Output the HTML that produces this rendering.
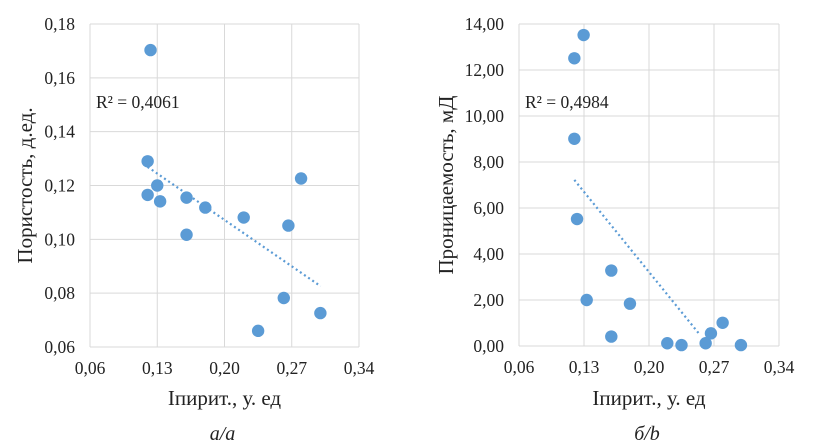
<!DOCTYPE html>
<html><head><meta charset="utf-8"><style>
html,body{margin:0;padding:0;background:#fff;width:824px;height:445px;overflow:hidden}
svg text{font-family:"Liberation Serif","Noto Serif CJK SC",serif;fill:#222}
</style></head><body>
<svg id="s" width="824" height="445"></svg>
<script>
const xTicks=[0.06,0.13,0.20,0.27,0.34];
const leftYTicks=[0.06,0.08,0.10,0.12,0.14,0.16,0.18];
const leftX=[0.123,0.120,0.130,0.120,0.133,0.1605,0.180,0.1605,0.220,0.2665,0.2797,0.2617,0.235,0.2998];
const leftY=[0.1703,0.129,0.120,0.1165,0.1141,0.1155,0.1118,0.1017,0.1081,0.1051,0.1226,0.0782,0.0660,0.0726];
const leftTrendX=[0.12,0.30];
const leftTrendY=[0.1269,0.0826];
const rightYTicks=[0,2,4,6,8,10,12,14];
const rightX=[0.1296,0.1196,0.1196,0.1225,0.1594,0.1329,0.1795,0.1594,0.2197,0.235,0.261,0.2667,0.2793,0.299];
const rightY=[13.52,12.51,9.01,5.52,3.28,2.0,1.84,0.41,0.12,0.04,0.12,0.55,1.01,0.04];
const rightTrendX=[0.1196,0.255];
const rightTrendY=[7.22,0.48];
const NS="http://www.w3.org/2000/svg";
const svg=document.getElementById('s');
function mk(t,a,p){const e=document.createElementNS(NS,t);for(const k in a)e.setAttribute(k,a[k]);(p||svg).appendChild(e);return e;}
function chart(o){
 const g=mk('g',{});
 
 
 const sx=v=>o.x0+(v-xTicks[0])/(xTicks[xTicks.length-1]-xTicks[0])*(o.x1-o.x0);
 const yt=o.yTicks;
 const sy=v=>o.y1-(v-yt[0])/(yt[yt.length-1]-yt[0])*(o.y1-o.y0);
 xTicks.forEach(t=>{const l=mk('line',{x1:sx(t),x2:sx(t),y1:o.y0,y2:o.y1,stroke:'#d9d9d9','stroke-width':1},g);
  
  const tx=mk('text',{x:sx(t),y:o.y1+27,'text-anchor':'middle','font-size':17.5},g);tx.textContent=t.toFixed(2).replace('.',',');
  });
 yt.forEach(t=>{const l=mk('line',{x1:o.x0,x2:o.x1,y1:sy(t),y2:sy(t),stroke:'#d9d9d9','stroke-width':1},g);
  
  const tx=mk('text',{x:o.x0-15,y:sy(t)+6,'text-anchor':'end','font-size':17.5},g);tx.textContent=t.toFixed(2).replace('.',',');
  });
 const tl=mk('line',{x1:sx(o.tx[0]),y1:sy(o.ty[0]),x2:sx(o.tx[1]),y2:sy(o.ty[1]),stroke:'#5b9bd5','stroke-width':2.2,'stroke-dasharray':'2 3'},g);
 
 o.xs.forEach((v,i)=>{const c=mk('circle',{cx:sx(v),cy:sy(o.ys[i]),r:6.2,fill:'#5b9bd5'},g);
  });
 const r=mk('text',{x:o.x0+6,y:108,'font-size':17.5},g);r.textContent=o.r2;
 
 const xt=mk('text',{x:(o.x0+o.x1)/2,y:405,'text-anchor':'middle','font-size':21},g);xt.textContent='Іпирит., у. ед';
 
 const yti=mk('text',{x:0,y:0,'text-anchor':'middle','font-size':21,transform:`translate(${o.ytx},${(o.y0+o.y1)/2}) rotate(-90)`},g);yti.textContent=o.ytitle;
 
 const cap=mk('text',{x:(o.x0+o.x1)/2-2,y:440,'text-anchor':'middle','font-size':20,'font-style':'italic'},g);cap.textContent=o.cap;
 
}
chart({name:'porosity-chart',x0:90,x1:359,y0:24,y1:347,yTicks:leftYTicks,xs:leftX,ys:leftY,tx:leftTrendX,ty:leftTrendY,r2:'R² = 0,4061',ytitle:'Пористость, д.ед.',ytx:32,cap:'a/a'});
chart({name:'permeability-chart',x0:519,x1:779,y0:24,y1:346,yTicks:rightYTicks,xs:rightX,ys:rightY,tx:rightTrendX,ty:rightTrendY,r2:'R² = 0,4984',ytitle:'Проницаемость, мД',ytx:453,cap:'б/b'});
</script>
</body></html>
